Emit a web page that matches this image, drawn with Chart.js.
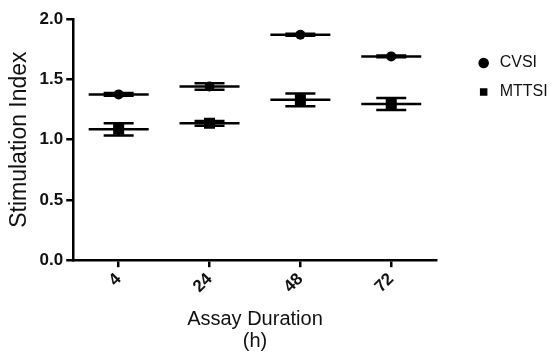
<!DOCTYPE html>
<html>
<head>
<meta charset="utf-8">
<title>Stimulation Index</title>
<script src="https://cdn.jsdelivr.net/npm/chart.js@4.4.1/dist/chart.umd.min.js"></script>
<style>
  html, body { margin: 0; padding: 0; background: #fff; }
  #wrap { width: 554px; height: 352px; }
</style>
</head>
<body>
<div id="wrap"><canvas id="myChart"></canvas></div>
<script>
'use strict';
// data (mean and error for each assay time)
let durations = ['4', '24', '48', '72'];
let cvsiMean = [1.375, 1.44, 1.87, 1.69];
let cvsiErr = [0.012, 0.027, 0.008, 0.007];
let mttsiMean = [1.085, 1.135, 1.33, 1.295];
let mttsiErr = [0.05, 0.02, 0.053, 0.05];
let yTicks = [0, 0.5, 1.0, 1.5, 2.0];

let fontFamily = "'Liberation Sans', Arial, Helvetica, sans-serif";
let ink = '#000';

// draws the error bars (vertical line + caps) with the chart scales
let errorBars = {
  id: 'errorBars',
  beforeDatasetsDraw(chart) {
    let ctx = chart.ctx;
    let xScale = chart.scales.x;
    let yScale = chart.scales.y;
    let sets = [[cvsiMean, cvsiErr], [mttsiMean, mttsiErr]];
    ctx.save();
    ctx.strokeStyle = ink;
    ctx.lineWidth = 2.5;
    for (let s = 0; s < sets.length; s++) {
      let means = sets[s][0];
      let errs = sets[s][1];
      for (let i = 0; i < means.length; i++) {
        let x = xScale.getPixelForValue(i);
        let top = yScale.getPixelForValue(means[i] + errs[i]);
        let bottom = yScale.getPixelForValue(means[i] - errs[i]);
        ctx.beginPath();
        ctx.moveTo(x, top);
        ctx.lineTo(x, bottom);
        ctx.moveTo(x - 15, top);
        ctx.lineTo(x + 15, top);
        ctx.moveTo(x - 15, bottom);
        ctx.lineTo(x + 15, bottom);
        ctx.stroke();
      }
    }
    ctx.restore();
  }
};

let ctx = document.getElementById('myChart').getContext('2d');
let chart = new Chart(ctx, {
  type: 'line',
  data: {
    labels: durations,
    datasets: [
      {
        label: 'CVSI',
        data: cvsiMean,
        showLine: false,
        pointStyle: 'circle',
        pointRadius: 5,
        pointBorderWidth: 0,
        pointBackgroundColor: ink,
        pointBorderColor: ink,
        borderColor: ink,
        backgroundColor: ink
      },
      {
        label: 'MTTSI',
        data: mttsiMean,
        showLine: false,
        pointStyle: 'rect',
        pointRadius: 7.8,
        pointBorderWidth: 0,
        pointBackgroundColor: ink,
        pointBorderColor: ink,
        borderColor: ink,
        backgroundColor: ink
      },
      // mean lines
      {
        label: 'CVSI mean',
        data: cvsiMean,
        showLine: false,
        pointStyle: 'line',
        pointRadius: 30,
        pointBorderWidth: 2.5,
        pointBorderColor: ink,
        borderColor: ink
      },
      {
        label: 'MTTSI mean',
        data: mttsiMean,
        showLine: false,
        pointStyle: 'line',
        pointRadius: 30,
        pointBorderWidth: 2.5,
        pointBorderColor: ink,
        borderColor: ink
      }
    ]
  },
  options: {
    responsive: true,
    maintainAspectRatio: false,
    animation: false,
    // the wide mean-line points would otherwise add 32px of padding on every side
    layout: { autoPadding: false, padding: { top: 19, left: 6, right: 0, bottom: 0 } },
    plugins: {
      tooltip: { enabled: false },
      legend: {
        position: 'right',
        align: 'start',
        title: { display: true, text: ' ', font: { size: 10 }, padding: { top: 11, bottom: 0 } },
        labels: {
          usePointStyle: true,
          boxWidth: 16,
          boxHeight: 7.5,
          padding: 13,
          color: '#111',
          font: { family: fontFamily, size: 16 },
          filter: function (item) { return item.datasetIndex < 2; }
        }
      }
    },
    scales: {
      x: {
        offset: true,
        grid: { display: true, drawOnChartArea: false, color: ink, lineWidth: 2.5, tickLength: 7 },
        border: { color: ink, width: 2.5 },
        ticks: {
          color: '#111',
          minRotation: 45,
          maxRotation: 45,
          padding: 2,
          font: { family: fontFamily, size: 17, weight: 'bold' }
        },
        title: {
          display: true,
          text: ['Assay Duration', '(h)'],
          color: '#111',
          padding: { top: 9, bottom: 0 },
          font: { family: fontFamily, size: 20, lineHeight: 1.1 }
        }
      },
      y: {
        min: 0,
        max: 2,
        afterBuildTicks: function (scale) {
          scale.ticks = yTicks.map(function (v) { return { value: v }; });
        },
        grid: { display: true, drawOnChartArea: false, color: ink, lineWidth: 2.5, tickLength: 7 },
        border: { color: ink, width: 2.5 },
        ticks: {
          color: '#111',
          padding: 3,
          font: { family: fontFamily, size: 17, weight: 'bold' },
          callback: function (v) { return Number(v).toFixed(1); }
        },
        title: {
          display: true,
          text: 'Stimulation Index',
          color: '#111',
          padding: { top: 0, bottom: 3 },
          font: { family: fontFamily, size: 23 }
        }
      },
      // empty axis that keeps the gap between the plot and the legend
      gap: {
        position: 'right',
        display: true,
        grid: { display: false },
        border: { display: false },
        ticks: { display: false },
        afterFit: function (scale) { scale.width = 26; }
      }
    }
  },
  plugins: [errorBars]
});
</script>
</body>
</html>
